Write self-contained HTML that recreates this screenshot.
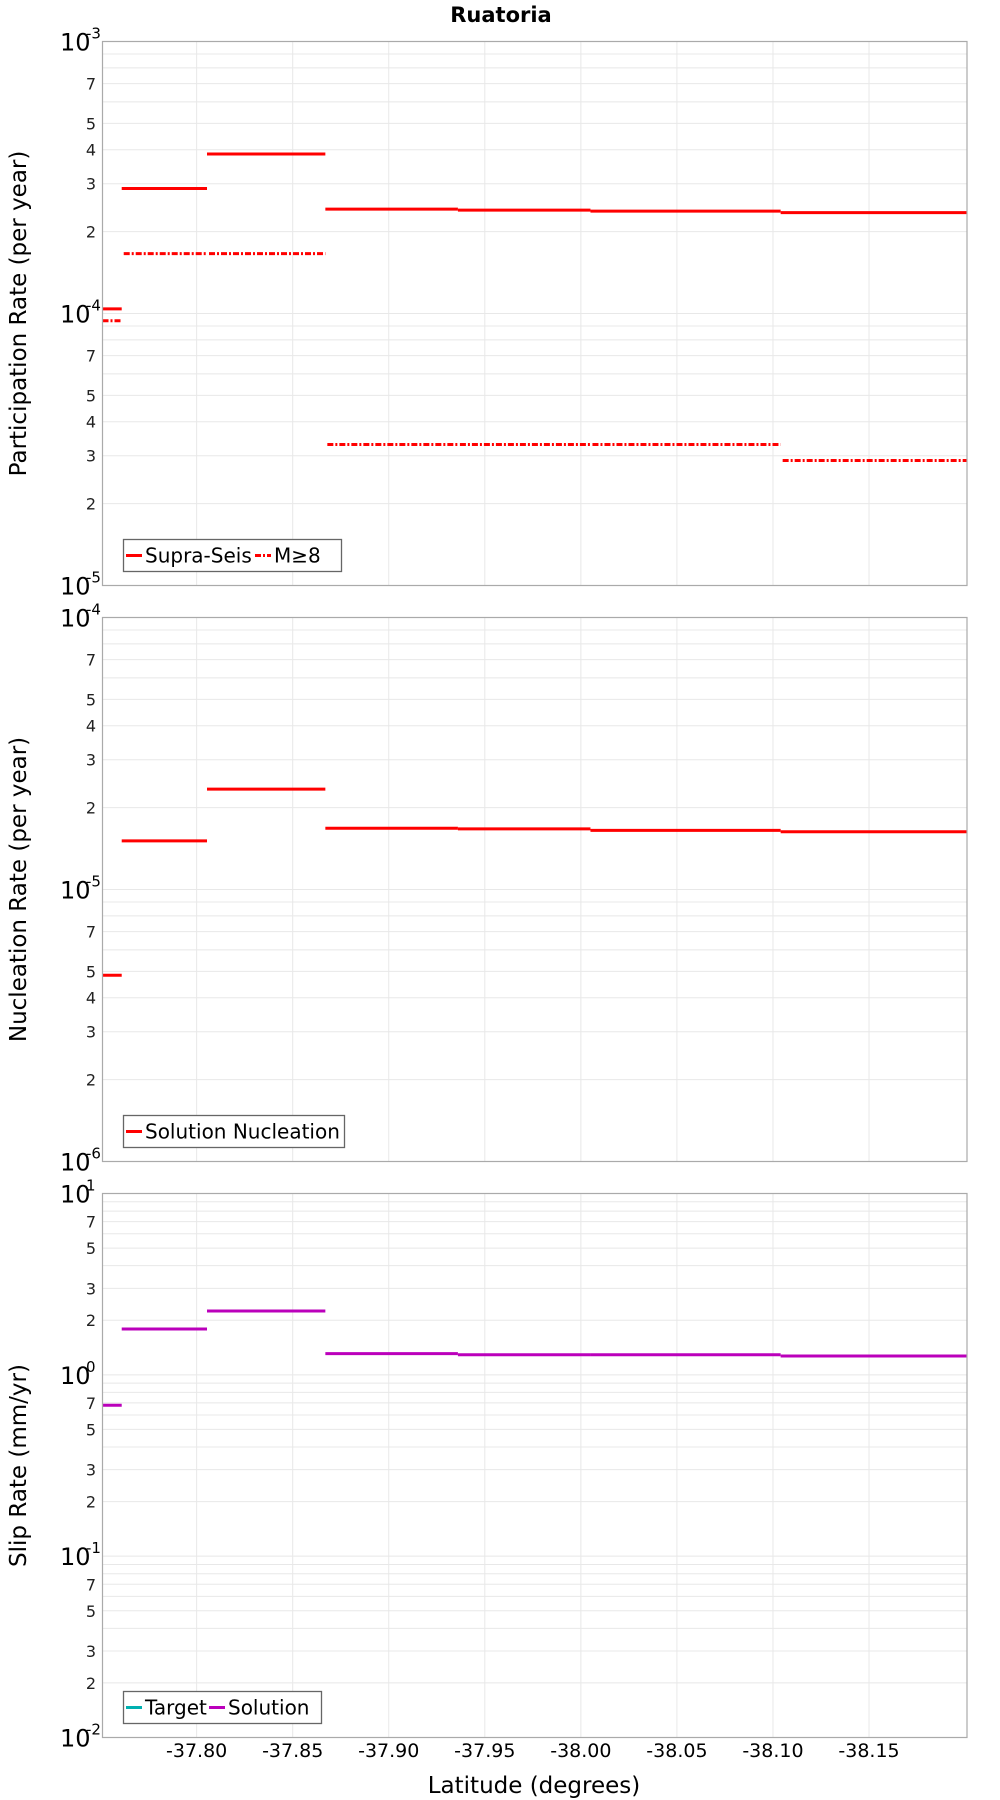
<!DOCTYPE html>
<html><head><meta charset="utf-8"><title>Ruatoria</title>
<style>
html,body{margin:0;padding:0;background:#fff;}
svg{display:block;font-family:"DejaVu Sans","Liberation Sans",sans-serif;}
</style></head>
<body>
<svg id="chart" width="1000" height="1800" viewBox="0 0 1000 1800" xmlns="http://www.w3.org/2000/svg">
<text x="501" y="22" text-anchor="middle" font-size="21" font-weight="bold">Ruatoria</text>
<text x="534" y="1793" text-anchor="middle" font-size="23">Latitude (degrees)</text>
</svg>
<script>
// shared x data
const breaks = [-37.751, -37.761, -37.8054, -37.867, -37.936, -38.005, -38.104, -38.201];
const xTicks = [-37.80, -37.85, -37.90, -37.95, -38.00, -38.05, -38.10, -38.15];
const xTickLabels = ["-37.80","-37.85","-37.90","-37.95","-38.00","-38.05","-38.10","-38.15"];
// panel 1
const supraSeis = [1.04e-4, 2.88e-4, 3.86e-4, 2.42e-4, 2.40e-4, 2.38e-4, 2.35e-4];
const m8 = [9.4e-5, 1.66e-4, 1.66e-4, 3.3e-5, 3.3e-5, 3.3e-5, 2.88e-5];
// panel 2
const nucleation = [4.84e-6, 1.51e-5, 2.34e-5, 1.68e-5, 1.67e-5, 1.65e-5, 1.63e-5];
// panel 3
const slipSolution = [0.68, 1.79, 2.25, 1.31, 1.29, 1.29, 1.27];

const NS = "http://www.w3.org/2000/svg";
const svg = document.getElementById("chart");
const L = 102.5, R = 967;
const xDom = [-37.751, -38.201];
function xs(v){ return L + (v - xDom[0]) / (xDom[1] - xDom[0]) * (R - L); }

function mk(tag, attrs, parent){
  const e = document.createElementNS(NS, tag);
  for (const k in attrs) e.setAttribute(k, attrs[k]);
  (parent || svg).appendChild(e);
  return e;
}

function panel(cfg){
  const T = cfg.top, B = cfg.bottom;
  const g = mk("g", {});
  
  
  function ys(v){ return B - (Math.log10(v) - cfg.lo) / (cfg.hi - cfg.lo) * (B - T); }
  for (const t of xTicks){
    const x = xs(t);
    const gl = mk("line", {x1:x, x2:x, y1:T, y2:B, stroke:"#e8e8e8", "stroke-width":1}, g);
    
    
  }
  for (let d = cfg.lo; d < cfg.hi; d++){
    for (let m = 1; m <= 9; m++){
      const v = m * Math.pow(10, d);
      const y = ys(v);
      if (m > 1){
        const gl = mk("line", {x1:L, x2:R, y1:y, y2:y, stroke:"#e8e8e8", "stroke-width":1}, g);
        
        
      }
      if (cfg.minorLabels.indexOf(m) >= 0){
        const t = mk("text", {x:96, y:y + 6, "text-anchor":"end", "font-size":16, fill:"#222"}, g);
        
        
        t.textContent = String(m);
      }
    }
  }
  for (let d = cfg.lo; d <= cfg.hi; d++){
    const y = ys(Math.pow(10, d));
    if (d > cfg.lo && d < cfg.hi){
      const gl = mk("line", {x1:L, x2:R, y1:y, y2:y, stroke:"#e8e8e8", "stroke-width":1}, g);
      
      
    }
    const t = mk("text", {x:60, y:y + 9, "font-size":24}, g);
    
    
    t.textContent = "10";
    const s = mk("text", {x:86, y:y - 3, "font-size":15}, g);
    
    
    s.textContent = String(d);
  }
  for (const ser of cfg.series){
    for (let i = 0; i < ser.values.length; i++){
      const y = ys(ser.values[i]);
      const ln = mk("line", {x1:xs(breaks[i]) + (i>0 && ser.dash ? 2 : 0), x2:xs(breaks[i+1]), y1:y, y2:y, stroke:ser.color, "stroke-width":3}, g);
      if (ser.dash) ln.setAttribute("stroke-dasharray", ser.dash);
      
      
    }
  }
  const fr = mk("rect", {x:L, y:T, width:R-L, height:B-T, fill:"none", stroke:"#aaa", "stroke-width":1.2}, g);
  
  
  const yt = mk("text", {x:0, y:0, "text-anchor":"middle", "font-size":23, transform:"translate(26," + ((T+B)/2) + ") rotate(-90)"}, g);
  
  
  yt.textContent = cfg.ytitle;
  const lg = mk("g", {}, g);
  
  
  const lb = mk("rect", {x:123.5, y:cfg.legY, width:cfg.legW, height:32, fill:"#fff", stroke:"#666", "stroke-width":1.3}, lg);
  
  
  let lx = 126;
  for (const it of cfg.legend){
    const sw = mk("line", {x1:lx, x2:lx+16, y1:cfg.legY+16, y2:cfg.legY+16, stroke:it.color, "stroke-width":3}, lg);
    if (it.dash) sw.setAttribute("stroke-dasharray", it.dash);
    
    
    const tx = mk("text", {x:lx+19, y:cfg.legY+23, "font-size":20}, lg);
    
    
    tx.textContent = it.label;
    lx += 19 + it.w;
  }
}

panel({name:"participation-panel", top:41.5, bottom:585.5, lo:-5, hi:-3, minorLabels:[2,3,4,5,7],
  ytitle:"Participation Rate (per year)",
  series:[{key:"supra-seis", values:supraSeis, color:"#ff0000"},
          {key:"m8", values:m8, color:"#ff0000", dash:"6,2,2,2"}],
  legY:539.5, legW:218,
  legend:[{label:"Supra-Seis", color:"#ff0000", w:110},{label:"M≥8", color:"#ff0000", dash:"6,2,2,2", w:60}]});

panel({name:"nucleation-panel", top:617.5, bottom:1161.5, lo:-6, hi:-4, minorLabels:[2,3,4,5,7],
  ytitle:"Nucleation Rate (per year)",
  series:[{key:"solution-nucleation", values:nucleation, color:"#ff0000"}],
  legY:1115.5, legW:221,
  legend:[{label:"Solution Nucleation", color:"#ff0000", w:195}]});

panel({name:"slip-rate-panel", top:1193.5, bottom:1737.5, lo:-2, hi:1, minorLabels:[2,3,5,7],
  ytitle:"Slip Rate (mm/yr)",
  series:[{key:"solution-slip", values:slipSolution, color:"#bb00bb"}],
  legY:1691.5, legW:198,
  legend:[{label:"Target", color:"#00b0b0", w:64},{label:"Solution", color:"#bb00bb", w:90}]});

for (let i = 0; i < xTicks.length; i++){
  const t = mk("text", {x:xs(xTicks[i]), y:1757, "text-anchor":"middle", "font-size":19});
  
  
  t.textContent = xTickLabels[i];
}
</script>
</body></html>
